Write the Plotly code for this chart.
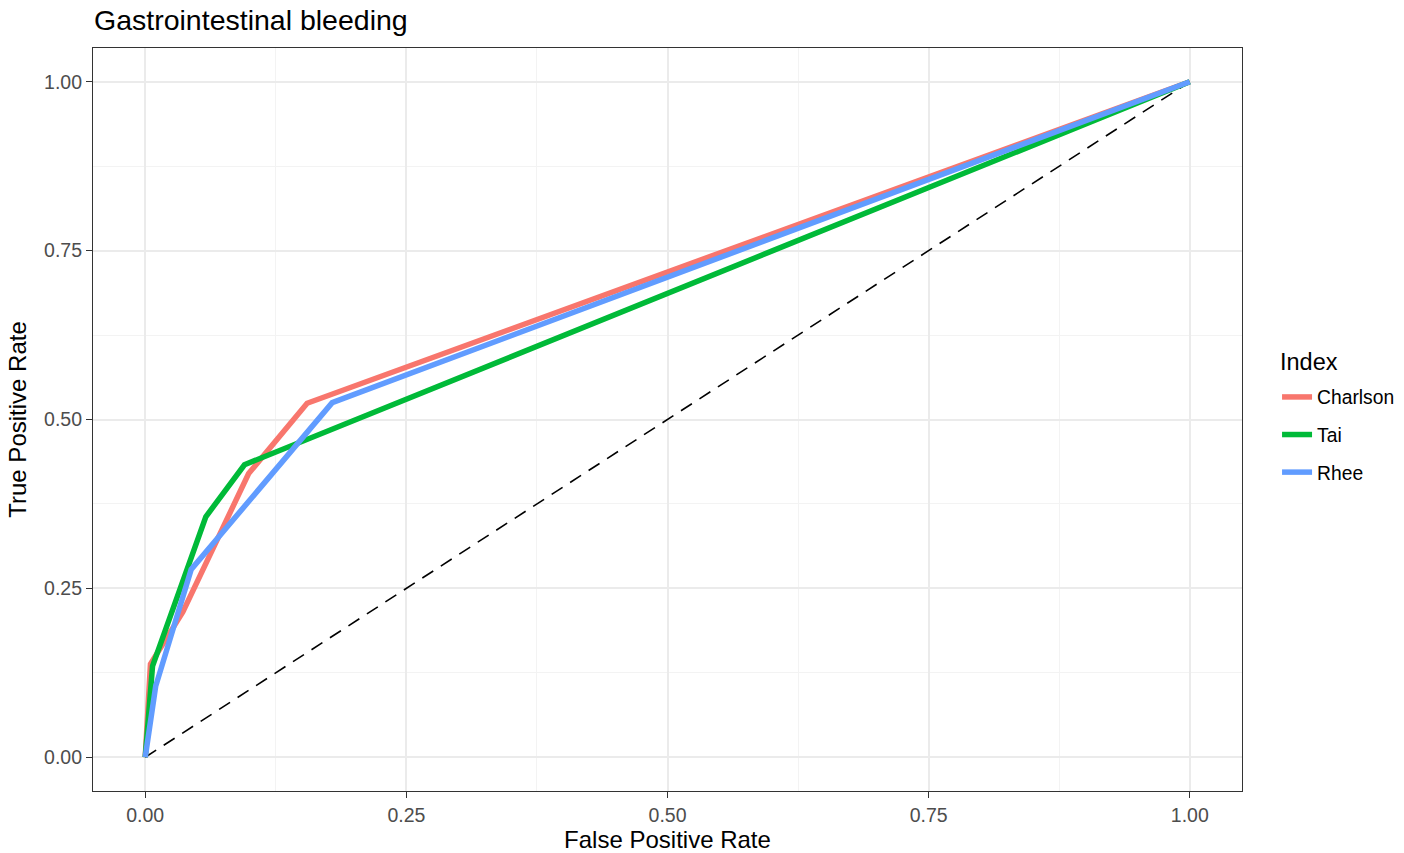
import plotly.graph_objects as go

# ROC curve points per comorbidity index
charlson_fpr = [0.0, 0.005, 0.036, 0.099, 0.155, 1.0]
charlson_tpr = [0.0, 0.138, 0.215, 0.420, 0.524, 1.0]

tai_fpr = [0.0, 0.007, 0.058, 0.095, 1.0]
tai_tpr = [0.0, 0.135, 0.356, 0.433, 1.0]

rhee_fpr = [0.0, 0.010, 0.044, 0.179, 1.0]
rhee_tpr = [0.0, 0.105, 0.278, 0.525, 1.0]

ref_line = [0.0, 1.0]

series = [
    ("Charlson", charlson_fpr, charlson_tpr, "#F8766D"),
    ("Tai", tai_fpr, tai_tpr, "#00BA38"),
    ("Rhee", rhee_fpr, rhee_tpr, "#619CFF"),
]

tick_vals = [0.0, 0.25, 0.5, 0.75, 1.0]
tick_text = ["0.00", "0.25", "0.50", "0.75", "1.00"]
minor_vals = [0.125, 0.375, 0.625, 0.875]

FONT = "Liberation Sans, Arial, sans-serif"

fig = go.Figure()

fig.add_trace(go.Scatter(
    x=ref_line, y=ref_line, mode="lines",
    line=dict(color="black", width=1.6, dash="13px,9px"),
    showlegend=False, hoverinfo="skip",
))

for name, fx, ty, col in series:
    fig.add_trace(go.Scatter(
        x=fx, y=ty, mode="lines", name=name, legendgroup=name,
        line=dict(color=col, width=5.5),
    ))

axis_common = dict(
    range=[-0.05, 1.05],
    tickvals=tick_vals, ticktext=tick_text,
    showgrid=True, gridcolor="#EBEBEB", gridwidth=1.6,
    minor=dict(tickvals=minor_vals, showgrid=True, gridcolor="#F3F3F3", gridwidth=1, ticks=""),
    zeroline=False,
    showline=True, linecolor="#333333", linewidth=1.2, mirror=True,
    ticks="outside", ticklen=6, tickwidth=1.2, tickcolor="#333333",
    tickfont=dict(family=FONT, size=19.5, color="#4D4D4D"),
    automargin=False,
)

fig.update_layout(
    width=1404, height=853,
    margin=dict(l=93, r=162, t=48, b=62, autoexpand=False),
    paper_bgcolor="white", plot_bgcolor="white",
    title=dict(
        text="Gastrointestinal bleeding",
        font=dict(family=FONT, size=28.5, color="black"),
        x=94 / 1404, xanchor="left", xref="container",
        y=1 - 20 / 853, yanchor="middle", yref="container",
    ),
    xaxis=dict(axis_common, title=dict(text="False Positive Rate", standoff=8,
                                        font=dict(family=FONT, size=24, color="black"))),
    yaxis=dict(axis_common, title=dict(text="True Positive Rate", standoff=10,
                                        font=dict(family=FONT, size=24, color="black"))),
    legend=dict(
        font=dict(family=FONT, size=19.3, color="black"),
        x=1.0305, y=0.556, xanchor="left", yanchor="top",
        itemwidth=30, tracegroupgap=9.5,
        bgcolor="rgba(0,0,0,0)",
    ),
    annotations=[dict(
        text="Index", xref="paper", yref="paper",
        x=(1278 - 93) / 1149, y=(791 - 361.5) / 743,
        xanchor="left", yanchor="middle", showarrow=False,
        font=dict(family=FONT, size=23.5, color="black"),
    )],
)

fig.write_html("out.html")
